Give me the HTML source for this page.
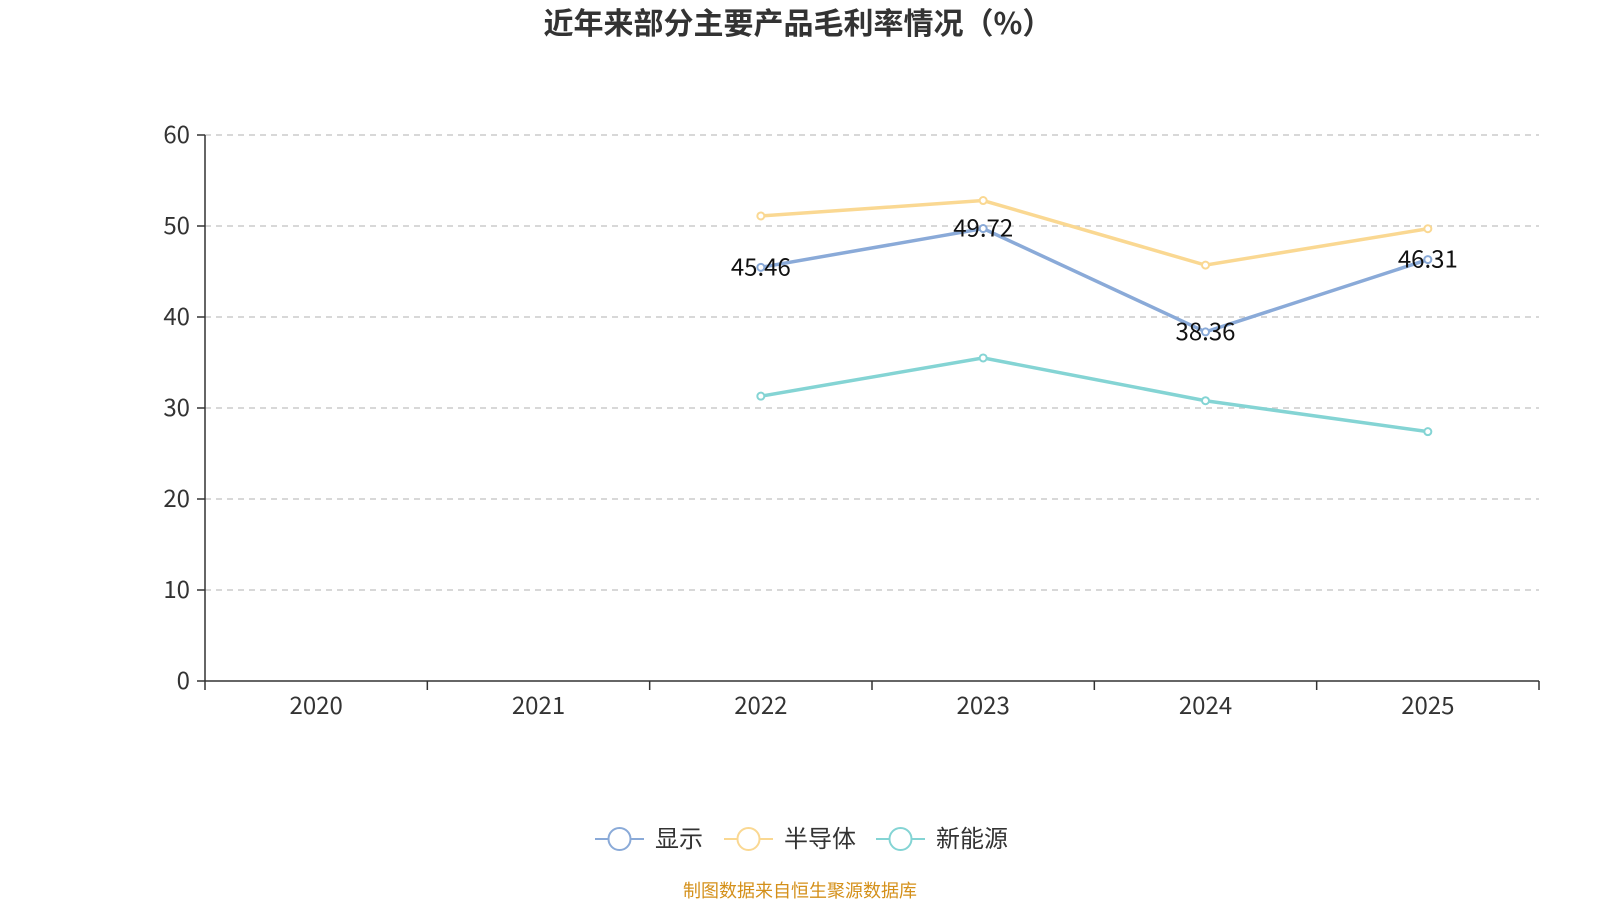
<!DOCTYPE html>
<html><head><meta charset="utf-8">
<style>
html,body{margin:0;padding:0;background:#fff;}
body{width:1600px;height:900px;overflow:hidden;}
</style></head>
<body>
<svg id="chart" width="1600" height="900" xmlns="http://www.w3.org/2000/svg" font-family="Noto Sans CJK SC, Liberation Sans, sans-serif">
<text x="798" y="34" text-anchor="middle" font-size="30" font-weight="bold" fill="#333">近年来部分主要产品毛利率情况（%）</text>
<g id="grid"></g><g id="axes"></g><g id="series"></g><g id="legend"></g>
<text x="800" y="897" text-anchor="middle" font-size="18" fill="#d4901a">制图数据来自恒生聚源数据库</text>
</svg>
<script>
const categories=["2020","2021","2022","2023","2024","2025"];
const yTicks=[0,10,20,30,40,50,60];
const seriesNames=["显示","半导体","新能源"];
const seriesColors=["#8aaad8","#fad892","#84d4d4"];
const displayValues=[null,null,45.46,49.72,38.36,46.31];
const semiValues=[null,null,51.1,52.8,45.7,49.7];
const energyValues=[null,null,31.3,35.5,30.8,27.4];
const allSeries=[displayValues,semiValues,energyValues];
const showLabels=[true,false,false];

const NS="http://www.w3.org/2000/svg";
const X0=205,X1=1539,Y0=681,Y1=135;
const bw=(X1-X0)/categories.length;
const xs=i=>X0+bw*(i+0.5);
const ys=v=>Y0-(v-0)/(60-0)*(Y0-Y1);
function mk(tag,attrs,parent){const e=document.createElementNS(NS,tag);for(const k in attrs)e.setAttribute(k,attrs[k]);parent.appendChild(e);return e;}
const grid=document.getElementById('grid'),axes=document.getElementById('axes'),ser=document.getElementById('series'),leg=document.getElementById('legend');
yTicks.forEach(t=>{
  const y=ys(t);
  if(t>0){const l=mk('line',{x1:X0,x2:X1,y1:y,y2:y,stroke:'#ccc','stroke-dasharray':'6,5','stroke-width':1.5},grid);
  
  }
  const tk=mk('line',{x1:X0-8,x2:X0,y1:y,y2:y,stroke:'#333','stroke-width':1.5},axes);
  
  
  const tx=mk('text',{x:X0-15,y:y+8,'text-anchor':'end','font-size':24,fill:'#333'},axes);tx.textContent=t;
  
  
});
const ya=mk('line',{x1:X0,x2:X0,y1:Y1,y2:Y0,stroke:'#333','stroke-width':1.5},axes);


const xa=mk('line',{x1:X0,x2:X1,y1:Y0,y2:Y0,stroke:'#333','stroke-width':1.5},axes);


for(let i=0;i<=categories.length;i++){const x=X0+bw*i;const t=mk('line',{x1:x,x2:x,y1:Y0,y2:Y0+9,stroke:'#333','stroke-width':1.5},axes);
  
  }
categories.forEach((c,i)=>{const t=mk('text',{x:xs(i),y:Y0+33,'text-anchor':'middle','font-size':24,fill:'#333'},axes);t.textContent=c;
  
  });
allSeries.forEach((vals,s)=>{
  const pts=[];vals.forEach((v,i)=>{if(v!=null)pts.push([xs(i),ys(v),v]);});
  const p=mk('polyline',{points:pts.map(p=>p[0]+','+p[1]).join(' '),fill:'none',stroke:seriesColors[s],'stroke-width':3.5},ser);
  
  
  pts.forEach(pt=>{
    const c=mk('circle',{cx:pt[0],cy:pt[1],r:3.5,fill:'#fff',stroke:seriesColors[s],'stroke-width':2},ser);
    
    
    if(showLabels[s]){const t=mk('text',{x:pt[0],y:pt[1]+8,'text-anchor':'middle','font-size':24,fill:'#111'},ser);t.textContent=pt[2].toFixed(2);
      
      }
  });
});
const lx=[595,724,876];
seriesNames.forEach((n,s)=>{
  const g=mk('g',{},leg);
  
  
  mk('line',{x1:lx[s],x2:lx[s]+49,y1:839,y2:839,stroke:seriesColors[s],'stroke-width':2},g);
  mk('circle',{cx:lx[s]+24.5,cy:839,r:11,fill:'#fff',stroke:seriesColors[s],'stroke-width':2},g);
  const t=mk('text',{x:lx[s]+60,y:847,'font-size':24,fill:'#333'},g);t.textContent=n;
});
</script>
</body></html>
